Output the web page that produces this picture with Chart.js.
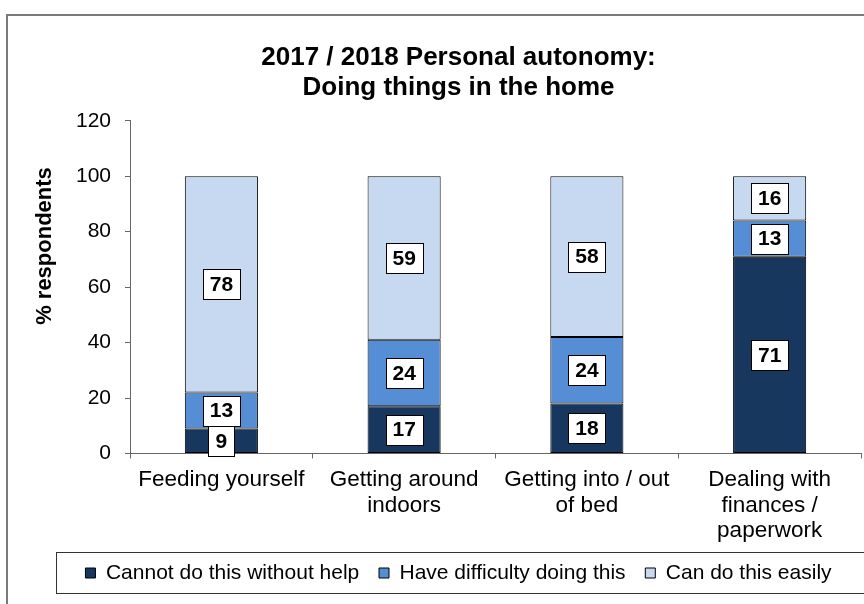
<!DOCTYPE html>
<html>
<head>
<meta charset="utf-8">
<script src="https://cdn.jsdelivr.net/npm/chart.js@4/dist/chart.umd.min.js"></script>
<style>
  html, body { margin: 0; padding: 0; background: #fff; overflow: hidden; }
  #wrap { position: absolute; left: 0; top: 0; width: 920px; height: 620px; }
</style>
</head>
<body>
<div id="wrap"><canvas id="chart" width="920" height="620"></canvas></div>
<script>
const categories = [
    'Feeding yourself',
    ['Getting around', 'indoors'],
    ['Getting into / out', 'of bed'],
    ['Dealing with', 'finances /', 'paperwork']
];
const cannotDo = [9, 17, 18, 71];
const haveDifficulty = [13, 24, 24, 13];
const canDoEasily = [78, 59, 58, 16];

const seriesNames = ['Cannot do this without help', 'Have difficulty doing this', 'Can do this easily'];
const seriesColors = ['#17375E', '#558ED5', '#C6D9F1'];

const FONT = '"Liberation Sans", Arial, Helvetica, sans-serif';
Chart.defaults.font.family = FONT;
Chart.defaults.color = '#000';

// white boxes with the value in the middle of each segment
const valueBoxes = {
    id: 'valueBoxes',
    afterDatasetsDraw(chart) {
        const ctx = chart.ctx;
        ctx.save();
        ctx.font = 'bold 21px ' + FONT;
        ctx.textAlign = 'center';
        ctx.textBaseline = 'middle';
        chart.data.datasets.forEach((ds, i) => {
            chart.getDatasetMeta(i).data.forEach((bar, j) => {
                const text = String(ds.data[j]);
                const w = Math.round(ctx.measureText(text).width + 14);
                const h = 30;
                const cy = (bar.y + bar.base) / 2;
                const x = Math.round(bar.x - w / 2) + 0.5;
                const y = Math.round(cy - h / 2) + 0.5;
                ctx.fillStyle = '#fff';
                ctx.fillRect(x, y, w, h);
                ctx.strokeStyle = '#000';
                ctx.lineWidth = 1;
                ctx.strokeRect(x, y, w, h);
                ctx.fillStyle = '#000';
                ctx.fillText(text, bar.x, cy + 1);
            });
        });
        ctx.restore();
    }
};

// outer frame, legend box and the rotated y axis title
const decorations = {
    id: 'decorations',
    afterDraw(chart) {
        const ctx = chart.ctx;
        ctx.save();
        ctx.strokeStyle = '#7a7a7a';
        ctx.lineWidth = 2;
        ctx.strokeRect(7, 15, 906, 620);

        ctx.strokeStyle = '#333';
        ctx.lineWidth = 1;
        ctx.strokeRect(56.5, 552.5, 816, 41);

        ctx.translate(45, 246);
        ctx.rotate(-Math.PI / 2);
        ctx.font = 'bold 22px ' + FONT;
        ctx.fillStyle = '#000';
        ctx.textAlign = 'center';
        ctx.textBaseline = 'middle';
        ctx.fillText('% respondents', 0, 0);
        ctx.restore();
    }
};

const seriesData = [cannotDo, haveDifficulty, canDoEasily];

new Chart(document.getElementById('chart'), {
    type: 'bar',
    data: {
        labels: categories,
        datasets: seriesData.map((values, i) => ({
            label: seriesNames[i],
            data: values,
            backgroundColor: seriesColors[i],
            borderColor: '#000',
            borderWidth: 1,
            borderSkipped: false,
            barPercentage: 0.4,
            categoryPercentage: 1
        }))
    },
    options: {
        responsive: false,
        animation: false,
        devicePixelRatio: 1,
        layout: { padding: { left: 56, right: 59, top: 0, bottom: 26.5 } },
        plugins: {
            title: {
                display: true,
                text: ['2017 / 2018 Personal autonomy:', 'Doing things in the home'],
                font: { size: 26, weight: 'bold', lineHeight: 1.15 },
                color: '#000',
                padding: { top: 43, bottom: 18 }
            },
            legend: {
                position: 'bottom',
                labels: {
                    boxWidth: 10,
                    boxHeight: 10,
                    padding: 19.725,
                    font: { size: 21 },
                    color: '#000'
                }
            },
            tooltip: { enabled: false }
        },
        scales: {
            x: {
                stacked: true,
                grid: { drawOnChartArea: false, tickLength: 5, color: '#666' },
                border: { color: '#666' },
                ticks: { font: { size: 22.5, lineHeight: 1.13 }, padding: 8.8, color: '#000', maxRotation: 0 },
                afterFit(scale) { scale.height = 89.3; }
            },
            y: {
                stacked: true,
                min: 0,
                max: 120,
                grid: { drawOnChartArea: false, tickLength: 5, color: '#666' },
                border: { color: '#666' },
                ticks: { stepSize: 20, font: { size: 21 }, padding: 14, color: '#000' },
                afterFit(scale) { scale.width = 74; }
            }
        }
    },
    plugins: [valueBoxes, decorations]
});
</script>
</body>
</html>
